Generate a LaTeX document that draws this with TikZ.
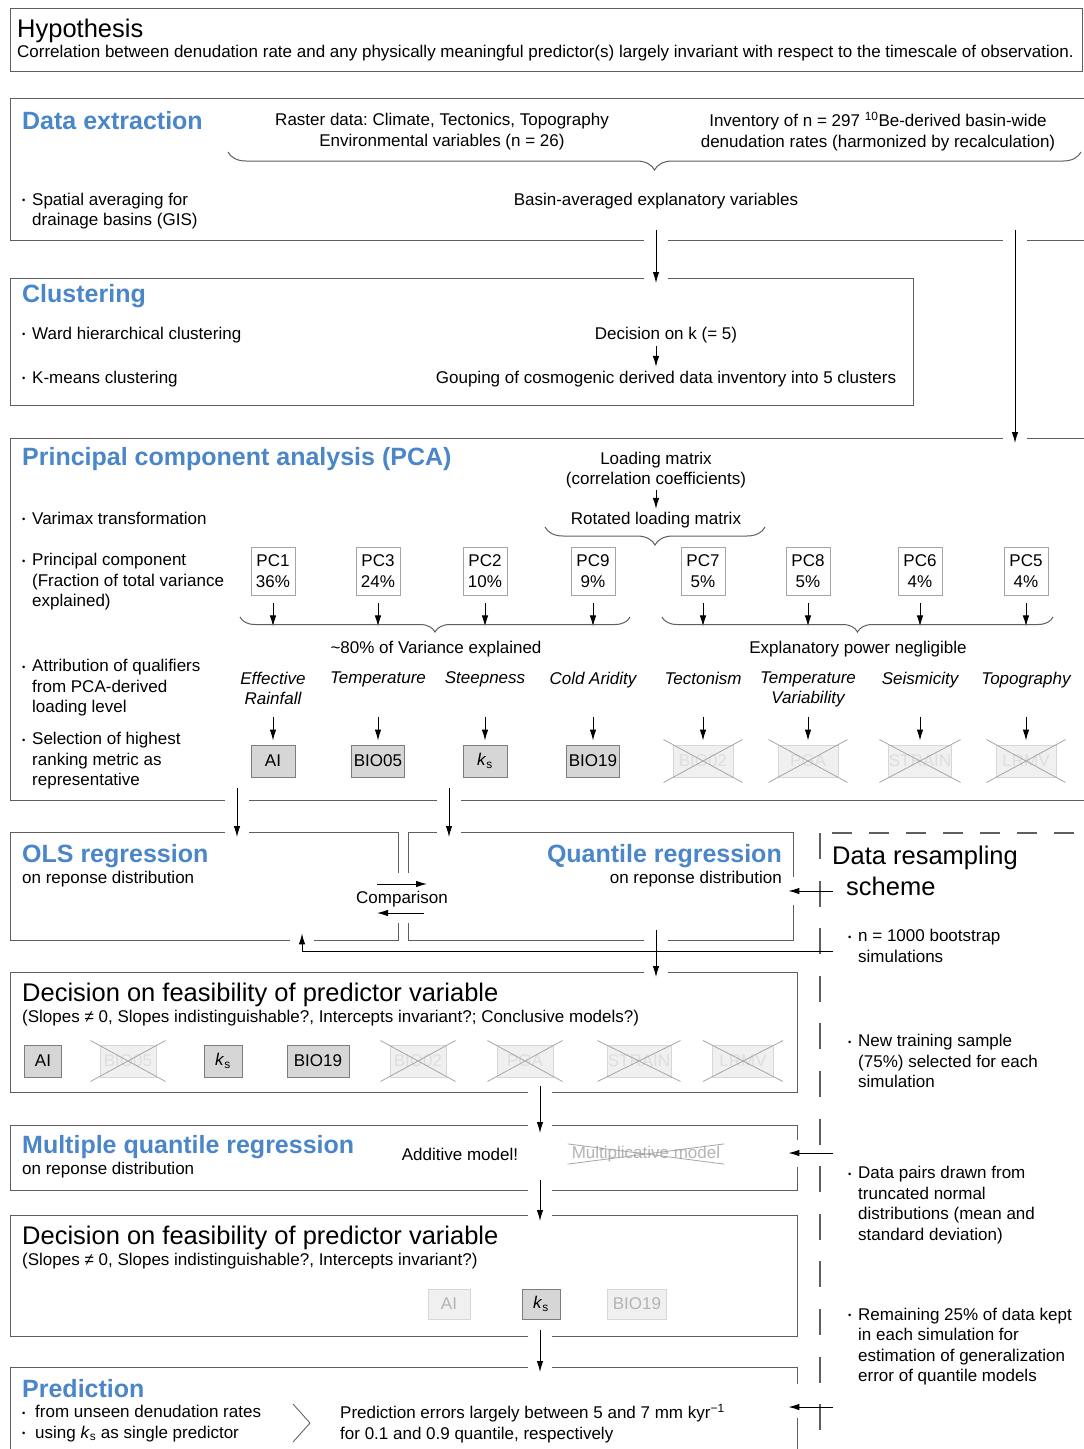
\documentclass[tikz,border=0pt]{standalone}
\usepackage{fontspec}
\setmainfont{Liberation Sans}
\usetikzlibrary{arrows.meta,decorations.pathreplacing,positioning}
\frenchspacing

\definecolor{headblue}{RGB}{74,134,200}
\definecolor{framegray}{RGB}{95,95,95}
\definecolor{pcgray}{RGB}{165,165,165}
\definecolor{pickfill}{RGB}{214,214,214}
\definecolor{pickgray}{RGB}{125,125,125}
\definecolor{dropfill}{RGB}{240,240,240}
\definecolor{dropgray}{RGB}{215,215,215}
\definecolor{droptext}{RGB}{222,222,222}
\definecolor{crossgray}{RGB}{165,165,165}
\definecolor{fadetext}{RGB}{180,180,180}

\newcommand{\bul}{\makebox[10pt][l]{\raisebox{1.5pt}{\scalebox{0.55}{\textbullet}}}}
\newcommand{\bulpad}{\hspace*{10pt}}
\newcommand{\ks}{\textit{k}\textsubscript{s}}
% crossed-out metric: node, horizontal and vertical overhang
\newcommand{\strike}[3]{\draw[crossline] ([shift={(-#2,-#3)}]#1.north west) -- ([shift={(#2,#3)}]#1.south east) ([shift={(-#2,#3)}]#1.south west) -- ([shift={(#2,-#3)}]#1.north east);}

\tikzset{
  body/.style={font=\fontsize{17}{20.5}\selectfont, inner sep=0pt},
  txt/.style={body, anchor=west, align=left},
  ctr/.style={body, align=center},
  head/.style={font=\fontsize{25}{30}\selectfont\bfseries, text=headblue, inner sep=0pt, anchor=west},
  bighead/.style={font=\fontsize{25.5}{31}\selectfont, inner sep=0pt, anchor=west, align=left},
  frame/.style={draw=framegray, line width=1.4pt, anchor=north west, inner sep=0pt},
  pcbox/.style={body, draw=pcgray, line width=0.9pt, align=center, minimum width=44pt, minimum height=48pt},
  qual/.style={body, font=\fontsize{17}{20.5}\selectfont\itshape, align=center, anchor=north},
  pick/.style={body, draw=pickgray, fill=pickfill, line width=0.9pt, minimum height=32pt},
  drop/.style={body, draw=dropgray, fill=dropfill, text=droptext, line width=0.9pt, minimum height=32pt},
  fade/.style={body, draw=dropgray, fill=dropfill, text=fadetext, line width=0.9pt, minimum height=30pt},
  crossline/.style={draw=crossgray, line width=0.8pt},
  flow/.style={draw=black, line width=1pt, -{Latex[length=11pt,width=6.5pt]}},
  brace/.style={draw=framegray, line width=1pt, decorate, decoration={brace, mirror, amplitude=#1}},
  rsline/.style={draw=framegray, line width=1.2pt},
  chev/.style={draw=black!60, line width=0.9pt},
}

\begin{document}
\begin{tikzpicture}[x=1pt, y=-1pt]
\useasboundingbox (0,0) rectangle (1084,1449);
\clip (0,0) rectangle (1084,1449);
\fill[white] (0,0) rectangle (1084,1449);

% Hypothesis
\node[frame, minimum width=1072pt, minimum height=63pt] (hyp) at (10,8) {};
\node[bighead] (hyptitle) at (17,31) {Hypothesis};
\node[txt] (hyptext) at (17,53) {Correlation between denudation rate and any physically meaningful predictor(s) largely invariant with respect to the timescale of observation.};

% Data extraction
\node[frame, minimum width=1100pt, minimum height=142pt] (dex) at (10,98) {};
\node[head] (dextitle) at (22,121) {Data extraction};
\node[ctr] (raster) at (442,131.5) {Raster data: Climate, Tectonics, Topography\\Environmental variables (n = 26)};
\node[ctr] (inv) at (878,131.5) {Inventory of n = 297 \textsuperscript{10}Be-derived basin-wide\\denudation rates (harmonized by recalculation)};
\draw[brace=18pt] (228,152) -- (1081,152);
\node[txt] (spatial) at (22,211) {\bul Spatial averaging for\\\bulpad drainage basins (GIS)};
\node[ctr] (basin) at (656,201) {Basin-averaged explanatory variables};

% Clustering
\node[frame, minimum width=903pt, minimum height=127pt] (clu) at (10,278) {};
\node[head] (clutitle) at (22,296) {Clustering};
\node[txt] (ward) at (22,335) {\bul Ward hierarchical clustering};
\node[txt] (kmeans) at (22,379) {\bul K-means clustering};
\node[ctr] (deck) at (666,335) {Decision on k (= 5)};
\node[ctr] (group) at (666,379) {Gouping of cosmogenic derived data inventory into 5 clusters};

% PCA
\node[frame, minimum width=1100pt, minimum height=362pt] (pca) at (10,438) {};
\node[head] (pcatitle) at (22,459) {Principal component analysis (PCA)};
\node[ctr] (load) at (656,470) {Loading matrix\\(correlation coefficients)};
\node[ctr] (rot) at (656,520) {Rotated loading matrix};
\draw[brace=18pt] (545,527) -- (765,527);
\node[txt] (varimax) at (22,518) {\bul Varimax transformation};
\node[txt] (pcrow) at (22,582) {\bul Principal component\\\bulpad(Fraction of total variance\\\bulpad explained)};
\node[txt] (qualrow) at (22,688) {\bul Attribution of qualifiers\\\bulpad from PCA-derived\\\bulpad loading level};
\node[txt] (selrow) at (22,761) {\bul Selection of highest\\\bulpad ranking metric as\\\bulpad representative};

\foreach \i/\x/\pc/\var in {1/273/1/36, 2/378/3/24, 3/485/2/10, 4/593/9/9, 5/703/7/5, 6/808/8/5, 7/920/6/4, 8/1026/5/4}
  \node[pcbox] (pc\i) at (\x,571) {PC\pc\\\var\%};
\foreach \i in {1,...,8}
  \draw[flow] ([shift={(0,8)}]pc\i.south) -- ++(0,23);

\draw[brace=15pt] (240,617) -- (630,617);
\draw[brace=15pt] (662,617) -- (1053,617);
\node[ctr] (major) at (436,649) {\textasciitilde 80\% of Variance explained};
\node[ctr] (minor) at (858,649) {Explanatory power negligible};

\foreach \i/\x/\q in {1/273/{Effective\\Rainfall}, 2/378/Temperature, 3/485/Steepness, 4/593/Cold Aridity, 5/703/Tectonism, 6/808/{Temperature\\Variability}, 7/920/Seismicity, 8/1026/Topography}
  \node[qual] (q\i) at (\x,671.5) {\q};

\node[pick, minimum width=44pt] (m1) at (273,761) {AI};
\node[pick, minimum width=53pt] (m2) at (378,761) {BIO05};
\node[pick, minimum width=44pt] (m3) at (485,761) {\ks};
\node[pick, minimum width=53pt] (m4) at (593,761) {BIO19};
\foreach \i/\x/\m in {5/703/BIO02, 6/808/PGA, 7/920/STRAIN, 8/1026/LRMV}
  \node[drop, minimum width=60pt] (m\i) at (\x,761) {\m};
\foreach \i in {5,...,8}
  {\strike{m\i}{9}{5}}

% Regressions
\node[frame, minimum width=388pt, minimum height=108pt] (ols) at (10,832) {};
\node[frame, minimum width=385pt, minimum height=108pt] (qr) at (408,832) {};
\node[head] (olstitle) at (22,856) {OLS regression};
\node[txt] (olssub) at (22,879) {on reponse distribution};
\node[head, anchor=east] (qrtitle) at (782,856) {Quantile regression};
\node[body, anchor=east] (qrsub) at (782,879) {on reponse distribution};

% Data resampling scheme
\node[bighead] (rstitle) at (832,871) {Data resampling\\\hspace*{14pt}scheme};
\node[txt] (rs1) at (848,946) {\bul n = 1000 bootstrap\\\bulpad simulations};
\node[txt] (rs2) at (848,1061) {\bul New training sample\\\bulpad (75\%) selected for each\\\bulpad simulation};
\node[txt] (rs3) at (848,1205) {\bul Data pairs drawn from\\\bulpad truncated normal\\\bulpad distributions (mean and\\\bulpad standard deviation)};
\node[txt] (rs4) at (848,1346.5) {\bul Remaining 25\% of data kept\\\bulpad in each simulation for\\\bulpad estimation of generalization\\\bulpad error of quantile models};
\draw[rsline, dash pattern=on 20pt off 17pt, dash phase=25pt] (820,833) -- (1100,833);
\draw[rsline, dash pattern=on 26pt off 21.6pt] (820,833) -- (820,1460);

% Decision (all quantiles)
\node[frame, minimum width=787pt, minimum height=120pt] (dec1) at (10,972) {};
\node[bighead] (dec1title) at (22,995) {Decision on feasibility of predictor variable};
\node[txt] (dec1sub) at (22,1018) {(Slopes ≠ 0, Slopes indistinguishable?, Intercepts invariant?; Conclusive models?)};
\node[pick, minimum width=37pt] (f1) at (43,1061) {AI};
\node[drop, minimum width=56pt] (f2) at (128,1061) {BIO05};
\node[pick, minimum width=38pt] (f3) at (223,1061) {\ks};
\node[pick, minimum width=62pt] (f4) at (318,1061) {BIO19};
\node[drop, minimum width=56pt] (f5) at (418,1061) {BIO02};
\node[drop, minimum width=56pt] (f6) at (525,1061) {PGA};
\node[drop, minimum width=64pt] (f7) at (639,1061) {STRAIN};
\node[drop, minimum width=61pt] (f8) at (743,1061) {LRMV};
\foreach \i in {2,5,6,7,8}
  {\strike{f\i}{9}{4}}

% Multiple quantile regression
\node[frame, minimum width=787pt, minimum height=65pt] (mqr) at (10,1125) {};
\node[head] (mqrtitle) at (22,1147) {Multiple quantile regression};
\node[txt] (mqrsub) at (22,1170) {on reponse distribution};
\node[ctr] (add) at (460,1154) {Additive model!};
\node[ctr, text=fadetext] (mult) at (646,1154) {Multiplicative model};
\strike{mult}{4}{2}

% Decision (multiple model)
\node[frame, minimum width=787pt, minimum height=121pt] (dec2) at (10,1215) {};
\node[bighead] (dec2title) at (22,1238) {Decision on feasibility of predictor variable};
\node[txt] (dec2sub) at (22,1261) {(Slopes ≠ 0, Slopes indistinguishable?, Intercepts invariant?)};
\node[fade, minimum width=42pt] (g1) at (449,1304) {AI};
\node[pick, minimum width=38pt, minimum height=30pt] (g2) at (541,1304) {\ks};
\node[fade, minimum width=59pt] (g3) at (637,1304) {BIO19};

% Prediction
\node[frame, minimum width=787pt, minimum height=120pt] (pred) at (10,1367) {};
\node[head] (predtitle) at (22,1389) {Prediction};
\node[txt] (predhow) at (22,1423.5) {\bul\hspace{3pt}from unseen denudation rates\\\bul\hspace{3pt}using \ks{} as single predictor};
\node[txt] (prederr) at (340,1423.5) {Prediction errors largely between 5 and 7 mm kyr\textsuperscript{−1}\\for 0.1 and 0.9 quantile, respectively};
\draw[chev] (293,1404) -- (310,1423) -- (293,1442);

% breaks in the frames where arrows pass
\foreach \gx/\gy in {656/240, 1015/240, 656/278, 1015/438, 237/800, 449/800, 237/832, 449/832, 302/940, 656/940, 656/972, 540/1092, 540/1125, 540/1190, 540/1215, 540/1336, 540/1367}
  \fill[white] (\gx-12,\gy-3) rectangle (\gx+12,\gy+3);
\foreach \gx/\ga/\gb in {793/877/905, 797/1140/1167, 797/1384/1418, 398/873/923, 408/873/923}
  \fill[white] (\gx-3,\ga) rectangle (\gx+3,\gb);

\node[ctr] (cmp) at (402,899) {Comparison};
\draw[flow] ([shift={(-25,-15)}]cmp.center) -- ([shift={(25,-15)}]cmp.center);
\draw[flow] ([shift={(22,14)}]cmp.center) -- ([shift={(-25,14)}]cmp.center);

% arrows
\coordinate (dexL) at (656,230);
\coordinate (dexR) at (1015,230);
\draw[flow, shorten >=-5pt] (dexL) -- (dexL |- clu.north);
\draw[flow, shorten >=-5pt] (dexR) -- (dexR |- pca.north);
\draw[flow, shorten <=3pt, shorten >=4pt] ([xshift=-10pt]deck.south) -- ([xshift=-10pt]group.north);
\draw[flow, shorten <=2pt, shorten >=3pt] (load.south) -- (rot.north);
\foreach \i in {1,...,8}
  \draw[flow] ([shift={(0,-28)}]m\i.north) -- ([shift={(0,-4)}]m\i.north);

\coordinate (pcaL) at (237,788);
\coordinate (pcaR) at (449,788);
\draw[flow, shorten >=-5pt] (pcaL) -- (pcaL |- ols.north);
\draw[flow, shorten >=-5pt] (pcaR) -- (pcaR |- qr.north);

\coordinate (reg) at (656,930);
\draw[flow, shorten >=-5pt] (reg) -- (reg |- dec1.north);

\coordinate (fb) at (833,951);
\coordinate (fbturn) at (302,951);
\draw[flow, shorten >=-8pt] (fb) -- (fbturn) -- (fbturn |- ols.south);

\coordinate (d1out) at (540,1086);
\coordinate (mqout) at (540,1180);
\coordinate (d2out) at (540,1330);
\draw[flow, shorten >=-8pt] (d1out) -- (d1out |- mqr.north);
\draw[flow, shorten >=-6pt] (mqout) -- (mqout |- dec2.north);
\draw[flow, shorten >=-5pt] (d2out) -- (d2out |- pred.north);

\coordinate (rsA) at (833,891);
\coordinate (rsB) at (833,1153);
\coordinate (rsC) at (833,1407);
\draw[flow, shorten >=-6pt] (rsA) -- (rsA -| qr.east);
\draw[flow, shorten >=-10pt] (rsB) -- (rsB -| mqr.east);
\draw[flow, shorten >=-10pt] (rsC) -- (rsC -| pred.east);
\end{tikzpicture}
\end{document}
